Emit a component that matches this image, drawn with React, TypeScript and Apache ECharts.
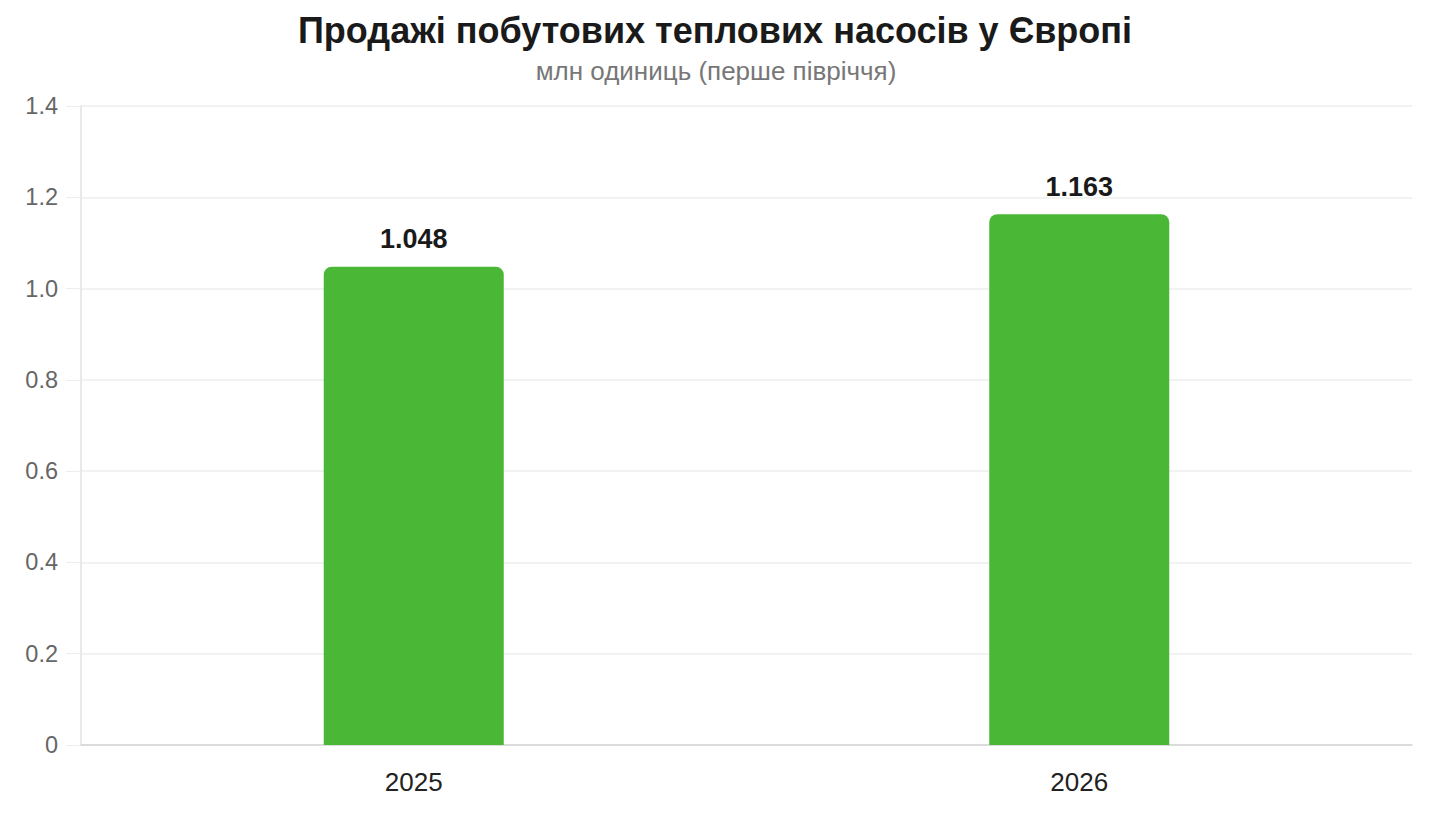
import { useEffect, useRef } from 'react';
import * as echarts from 'echarts';

const TITLE = 'Продажі побутових теплових насосів у Європі';
const SUBTITLE = 'млн одиниць (перше півріччя)';
const YEARS = ['2025', '2026'];
const SALES = [1.048, 1.163];

const FONT = '"Liberation Sans", Arial, sans-serif';
const BAR_COLOR = '#4ab836';

export default function App() {
  const chartRef = useRef<HTMLDivElement>(null);

  useEffect(() => {
    if (!chartRef.current) return;
    const chart = echarts.init(chartRef.current, undefined, { renderer: 'svg' });

    const option: echarts.EChartsOption = {
      animation: false,
      backgroundColor: '#ffffff',
      textStyle: { fontFamily: FONT },
      // title and subtitle as graphic texts: the reference centres them a few px left of the middle
      graphic: [
        {
          type: 'text',
          x: 715,
          y: 30,
          style: {
            text: TITLE,
            font: `bold 36px ${FONT}`,
            fill: '#1a1a1a',
            textAlign: 'center',
            textVerticalAlign: 'middle',
          },
        },
        {
          type: 'text',
          x: 716,
          y: 71,
          style: {
            text: SUBTITLE,
            font: `26px ${FONT}`,
            fill: '#777777',
            textAlign: 'center',
            textVerticalAlign: 'middle',
          },
        },
      ],
      grid: { left: 81, right: 28, top: 106, bottom: 95, containLabel: false },
      xAxis: {
        type: 'category',
        data: YEARS,
        axisLine: { lineStyle: { color: '#d4d4d4', width: 1.5 } },
        axisTick: { show: false },
        axisLabel: { fontSize: 26, color: '#222222', margin: 24, fontFamily: FONT },
      },
      yAxis: {
        type: 'value',
        min: 0,
        max: 1.4,
        interval: 0.2,
        axisLine: { show: true, lineStyle: { color: '#e2e2e2', width: 1.5 } },
        axisTick: { show: true, length: 15, lineStyle: { color: '#ecefec' } },
        splitLine: { lineStyle: { color: '#ecefec', width: 1.5 } },
        axisLabel: {
          fontSize: 23.5,
          color: '#666666',
          margin: 23,
          fontFamily: FONT,
          formatter: (v: number) => (v === 0 ? '0' : v.toFixed(1)),
        },
      },
      series: [
        {
          type: 'bar',
          data: SALES,
          barWidth: 180,
          itemStyle: { color: BAR_COLOR, borderRadius: [8, 8, 0, 0] },
          label: {
            show: true,
            position: 'top',
            distance: 14,
            fontSize: 27,
            fontWeight: 'bold',
            color: '#1a1a1a',
            fontFamily: FONT,
            formatter: (p: any) => p.value.toFixed(3),
          },
        },
      ],
    };

    chart.setOption(option);
    return () => chart.dispose();
  }, []);

  return (
    <div
      ref={chartRef}
      style={{ position: 'absolute', left: 0, top: 0, width: '1440px', height: '840px' }}
    />
  );
}
